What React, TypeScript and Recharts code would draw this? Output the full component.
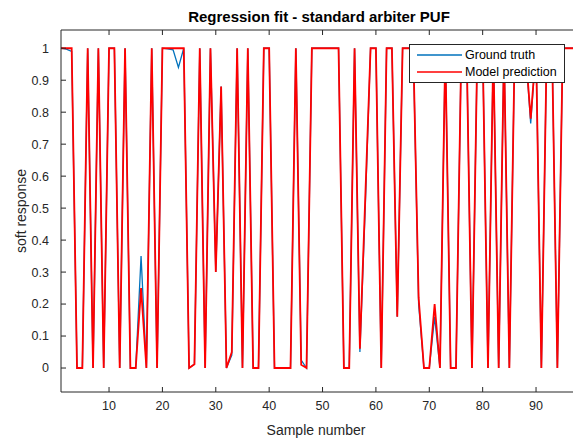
import React from 'react';
import { LineChart, Line, XAxis, YAxis, Legend } from 'recharts';

// Ground truth soft responses, samples 1..97
const groundTruth = [
  1, 0.997, 0.99, 0, 0, 1, 0, 1, 0, 1,
  1, 0, 1, 0, 0, 0.35, 0, 1, 0, 1,
  0.998, 0.995, 0.94, 1, 0, 0.012, 1, 0, 1, 0.3,
  0.88, 0, 0.04, 1, 0, 1, 0, 0, 1, 1,
  0, 0, 0, 0, 1, 0.025, 0, 1, 1, 1,
  1, 1, 1, 0, 0, 1, 0.05, 0.5, 1, 1,
  0, 1, 1, 0.16, 1, 1, 1, 0.2, 0, 0,
  0.16, 0, 1, 0, 0, 1, 1, 0, 1, 1,
  0, 1, 0, 1, 0, 1, 1, 1, 0.765, 1,
  0, 1, 1, 0, 1, 1, 1,
];

// Model prediction, samples 1..97
const modelPrediction = [
  1, 1, 1, 0, 0, 1, 0, 1, 0, 1,
  1, 0, 1, 0, 0, 0.25, 0, 1, 0, 1,
  1, 1, 1, 1, 0, 0.012, 1, 0, 1, 0.3,
  0.88, 0, 0.05, 1, 0, 1, 0, 0, 1, 1,
  0, 0, 0, 0, 1, 0.01, 0, 1, 1, 1,
  1, 1, 1, 0, 0, 1, 0.06, 0.53, 1, 1,
  0, 1, 1, 0.16, 1, 1, 1, 0.22, 0, 0,
  0.2, 0, 1, 0, 0, 1, 1, 0, 1, 1,
  0, 1, 0, 1, 0, 1, 1, 1, 0.78, 1,
  0, 1, 1, 0, 1, 1, 1,
];

const xTicks = [10, 20, 30, 40, 50, 60, 70, 80, 90];
const yTicks = [0, 0.1, 0.2, 0.3, 0.4, 0.5, 0.6, 0.7, 0.8, 0.9, 1];

const data = groundTruth.map((g, i) => ({
  sample: i + 1,
  truth: g,
  pred: modelPrediction[i],
}));

const FONT = '"Liberation Sans", Arial, Helvetica, sans-serif';
const AXIS = '#262626';

const renderLegend = (props: any) => {
  const payload = props.payload || [];
  return (
    <div
      style={{
        position: 'relative',
        width: 156,
        height: 39,
        boxSizing: 'border-box',
        border: `1px solid ${AXIS}`,
        background: '#fff',
        fontFamily: FONT,
        fontSize: 12.5,
        color: '#000',
      }}
    >
      {payload.map((entry: any, idx: number) => (
        <div
          key={idx}
          style={{
            position: 'absolute',
            left: 6,
            top: idx === 0 ? 1.5 : 19,
            height: 16,
            display: 'flex',
            alignItems: 'center',
            whiteSpace: 'nowrap',
          }}
        >
          <svg width={49} height={4} style={{ display: 'block' }}>
            <line x1={1} x2={46} y1={2} y2={2} stroke={entry.color} strokeWidth={1.5} />
          </svg>
          <span>{entry.value}</span>
        </div>
      ))}
    </div>
  );
};

export default function App() {
  return (
    <div
      style={{
        position: 'absolute',
        left: 0,
        top: 0,
        width: 573,
        height: 442,
        overflow: 'hidden',
        background: '#fff',
      }}
    >
      <div
        style={{
          position: 'absolute',
          left: 0,
          top: 8,
          width: 638,
          textAlign: 'center',
          fontFamily: FONT,
          fontSize: 15,
          fontWeight: 'bold',
          color: '#000',
          lineHeight: '18px',
          whiteSpace: 'nowrap',
        }}
      >
        Regression fit - standard arbiter PUF
      </div>
      <LineChart
        width={580}
        height={442}
        data={data}
        margin={{ top: 29, right: 6.6, bottom: 0, left: 0 }}
      >
        <XAxis
          xAxisId="top"
          orientation="top"
          dataKey="sample"
          type="number"
          domain={[1, 97]}
          ticks={xTicks}
          interval={0}
          height={1}
          tickSize={-5}
          tickMargin={0}
          tickFormatter={() => ''}
          stroke={AXIS}
        />
        <XAxis
          dataKey="sample"
          type="number"
          domain={[1, 97]}
          ticks={xTicks}
          interval={0}
          height={50}
          tickSize={-5}
          tickMargin={14}
          stroke={AXIS}
          tick={{ fill: AXIS, fontSize: 12.5, fontFamily: FONT }}
          label={() => (
            <text
              x={316}
              y={435}
              textAnchor="middle"
              fontFamily={FONT}
              fontSize={14}
              fill={AXIS}
            >
              Sample number
            </text>
          )}
        />
        <YAxis
          type="number"
          domain={[-0.075, 1.057]}
          ticks={yTicks}
          interval={0}
          width={61}
          tickSize={-5}
          tickMargin={17}
          allowDataOverflow
          stroke={AXIS}
          tick={{ fill: AXIS, fontSize: 12.5, fontFamily: FONT }}
          tickFormatter={(v: number) => String(v)}
          label={() => (
            <text
              x={26}
              y={211}
              transform="rotate(-90 26 211)"
              textAnchor="middle"
              fontFamily={FONT}
              fontSize={14}
              fill={AXIS}
            >
              soft response
            </text>
          )}
        />
        <Legend
          content={renderLegend}
          layout="horizontal"
          verticalAlign="middle"
          align="center"
          wrapperStyle={{ position: 'absolute', left: 409, top: 44, width: 156, height: 39 }}
        />
        <Line
          type="linear"
          dataKey="truth"
          name="Ground truth"
          stroke="#0072BD"
          strokeWidth={1.3}
          dot={false}
          activeDot={false}
          isAnimationActive={false}
        />
        <Line
          type="linear"
          dataKey="pred"
          name="Model prediction"
          stroke="#FF0000"
          strokeWidth={1.8}
          dot={false}
          activeDot={false}
          isAnimationActive={false}
        />
      </LineChart>
    </div>
  );
}
